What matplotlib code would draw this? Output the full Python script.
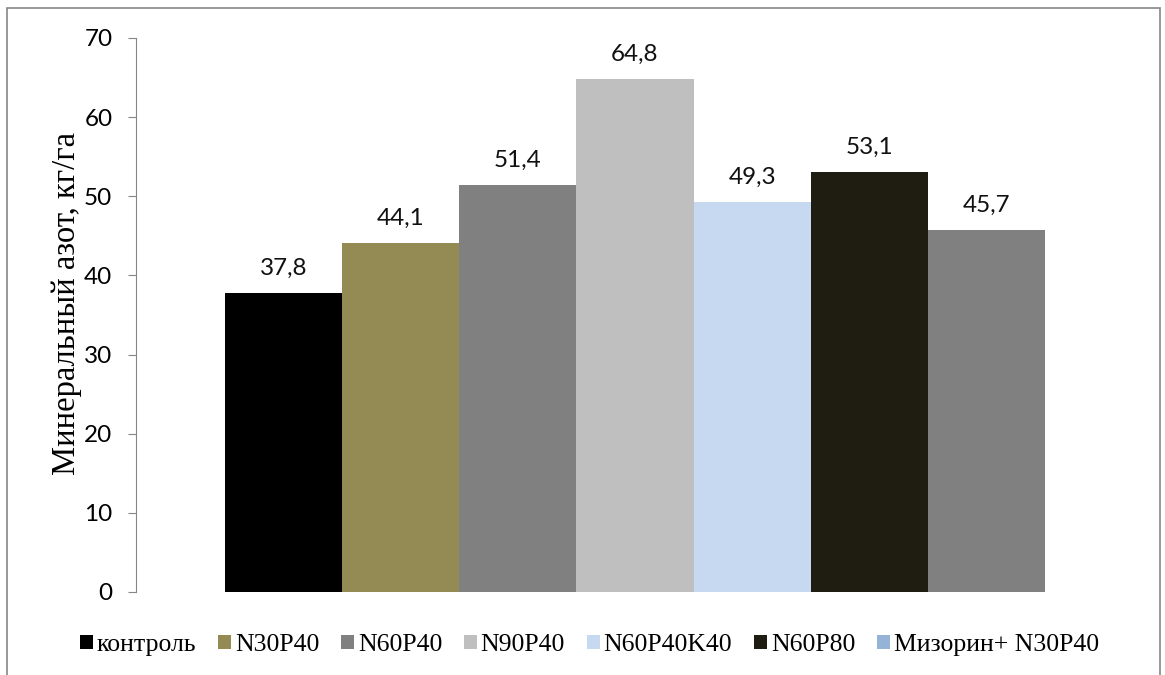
import matplotlib.pyplot as plt
from matplotlib.patches import Patch, Rectangle

# варианты опыта и содержание минерального азота
variants = ['контроль', 'N30P40', 'N60P40', 'N90P40', 'N60P40K40', 'N60P80', 'Мизорин+ N30P40']
nitrogen = [37.8, 44.1, 51.4, 64.8, 49.3, 53.1, 45.7]
bar_colors = ['#000000', '#948A54', '#808080', '#BFBFBF', '#C6D9F1', '#1F1C12', '#808080']
legend_colors = ['#000000', '#948A54', '#808080', '#BFBFBF', '#C6D9F1', '#1F1C12', '#95B3D7']
y_ticks = [0, 10, 20, 30, 40, 50, 60, 70]

fig = plt.figure(figsize=(11.65, 6.75), dpi=100)
ax = fig.add_axes([136 / 1165, 1 - 592 / 675, 998 / 1165, 554 / 675])

xs = list(range(len(variants)))
ax.bar(xs, nitrogen, width=1.0, color=bar_colors, linewidth=0)

# подписи значений над столбцами
for x, v in zip(xs, nitrogen):
    ax.annotate(f'{v:.1f}'.replace('.', ','), (x, v), xytext=(0, 13),
                textcoords='offset points', ha='center', va='baseline',
                fontsize=17.5, family='Lato', color='#111111')

ax.set_xlim(-1.259, 7.259)
ax.set_ylim(0, 70)
ax.set_yticks(y_ticks)
ax.set_xticks([])
ax.tick_params(axis='y', length=6, color='#868686', pad=11, labelsize=17.5)
for lbl in ax.get_yticklabels():
    lbl.set_family('Lato')

for side in ['top', 'right', 'bottom']:
    ax.spines[side].set_visible(False)
ax.spines['left'].set_color('#868686')

ax.set_ylabel('Минеральный азот, кг/га', family='Liberation Serif', fontsize=23.5)
ax.yaxis.set_label_coords(-0.054, 0.52)

handles = [Patch(facecolor=c, edgecolor='none') for c in legend_colors]
fig.legend(handles, variants, loc='center', bbox_to_anchor=(0.506, 1 - 645 / 675),
           ncol=len(variants), frameon=False, handlelength=0.5, handleheight=0.5,
           handletextpad=0.15, columnspacing=0.85,
           prop={'family': 'Liberation Serif', 'size': 18.5})

# рамка вокруг диаграммы
fig.patches.append(Rectangle((7 / 1165, -0.05), 1153 / 1165, 1.05 - 8 / 675,
                             transform=fig.transFigure, fill=False,
                             edgecolor='#868686', linewidth=1.2))

fig.savefig('out.png', dpi=100)
